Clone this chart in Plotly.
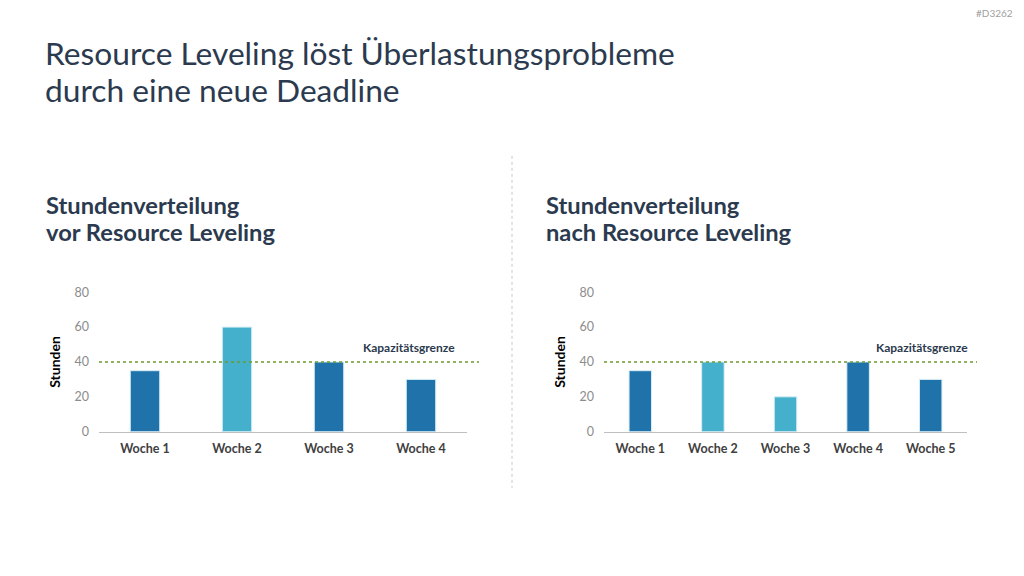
import plotly.graph_objects as go

weeks_before = ["Woche 1", "Woche 2", "Woche 3", "Woche 4"]
hours_before = [35, 60, 40, 30]
colors_before = ["#1f72aa", "#45b0cb", "#1f72aa", "#1f72aa"]

weeks_after = ["Woche 1", "Woche 2", "Woche 3", "Woche 4", "Woche 5"]
hours_after = [35, 40, 20, 40, 30]
colors_after = ["#1f72aa", "#45b0cb", "#45b0cb", "#1f72aa", "#1f72aa"]

capacity = 40
y_ticks = [0, 20, 40, 60, 80]

W, H = 1024, 576
def px(x): return x / W
def py(y):
    y_adj = (y - 9.6) / 0.971
    return 1 - y_adj / H

FONT = "Lato"
NAVY = "#2b3a4e"

fig = go.Figure()
fig.add_trace(go.Bar(x=weeks_before, y=hours_before, marker=dict(color=colors_before, line=dict(color="#d8eef5", width=1)),
                     width=0.32, xaxis="x", yaxis="y", showlegend=False, hoverinfo="skip"))
fig.add_trace(go.Bar(x=weeks_after, y=hours_after, marker=dict(color=colors_after, line=dict(color="#d8eef5", width=1)),
                     width=0.31, xaxis="x2", yaxis="y2", showlegend=False, hoverinfo="skip"))

ydom = [py(432), py(293)]
xtick = dict(size=12.5, color="#404040", family=FONT, weight="bold")
ytick = dict(size=12.5, color="#8c8c8c", family=FONT)
ytitle = dict(text="Stunden", font=dict(size=14, color="#000000", weight="bold", family=FONT), standoff=10)
fig.update_layout(
    width=W, height=H, margin=dict(l=0, r=0, t=0, b=0),
    paper_bgcolor="white", plot_bgcolor="white",
    font=dict(family=FONT),
    xaxis=dict(domain=[px(99), px(467)], anchor="y", showline=True, linecolor="#bfbfbf", linewidth=1,
               showgrid=False, ticks="", tickfont=xtick, ticklabelstandoff=5),
    yaxis=dict(domain=ydom, range=[0, 80], tickvals=y_ticks, anchor="x", showgrid=False, zeroline=False,
               tickfont=ytick, ticks="", ticklabelstandoff=9, title=ytitle),
    xaxis2=dict(domain=[px(604), px(967)], anchor="y2", showline=True, linecolor="#bfbfbf", linewidth=1,
                showgrid=False, ticks="", tickfont=xtick, ticklabelstandoff=5),
    yaxis2=dict(domain=ydom, range=[0, 80], tickvals=y_ticks, anchor="x2", showgrid=False, zeroline=False,
                tickfont=ytick, ticks="", ticklabelstandoff=9, title=ytitle),
)

shapes = [
    dict(type="line", xref="paper", yref="y", x0=px(99), x1=px(479), y0=capacity, y1=capacity,
         line=dict(color="#6e9a2e", width=1.5, dash="dot")),
    dict(type="line", xref="paper", yref="y2", x0=px(604), x1=px(977), y0=capacity, y1=capacity,
         line=dict(color="#6e9a2e", width=1.5, dash="dot")),
    dict(type="line", xref="paper", yref="paper", x0=px(512), x1=px(512), y0=py(157), y1=py(488),
         line=dict(color="#c8c8c8", width=1, dash="dot")),
]
fig.update_layout(shapes=shapes)

def txt(text, x, y, size, color, xanchor="left", bold=False):
    t = f"<b>{text}</b>" if bold else text
    return dict(text=t, xref="paper", yref="paper", x=px(x), y=py(y), xanchor=xanchor, yanchor="middle",
                showarrow=False, font=dict(size=size, color=color, family=FONT))

ann = [
    txt("Resource Leveling löst Überlastungsprobleme", 43, 54, 31.7, NAVY),
    txt("durch eine neue Deadline", 43, 91, 31.7, NAVY),
    txt("Stundenverteilung", 44, 206, 23.7, NAVY, bold=True),
    txt("vor Resource Leveling", 44, 233, 23.7, NAVY, bold=True),
    txt("Stundenverteilung", 544, 206, 23.7, NAVY, bold=True),
    txt("nach Resource Leveling", 544, 233, 23.7, NAVY, bold=True),
    txt("#D3262", 1015, 15, 10, "#a0a0a0", xanchor="right"),
]
ann.append(dict(text="<b>Kapazitätsgrenze</b>", xref="paper", yref="y", x=px(457), y=capacity + 8.5,
                xanchor="right", yanchor="middle", showarrow=False, font=dict(size=12, color=NAVY, family=FONT)))
ann.append(dict(text="<b>Kapazitätsgrenze</b>", xref="paper", yref="y2", x=px(970), y=capacity + 8.5,
                xanchor="right", yanchor="middle", showarrow=False, font=dict(size=12, color=NAVY, family=FONT)))
fig.update_layout(annotations=ann)

fig.write_html("out.html", post_script="document.body.style.margin='0';document.body.style.overflow='hidden';")
